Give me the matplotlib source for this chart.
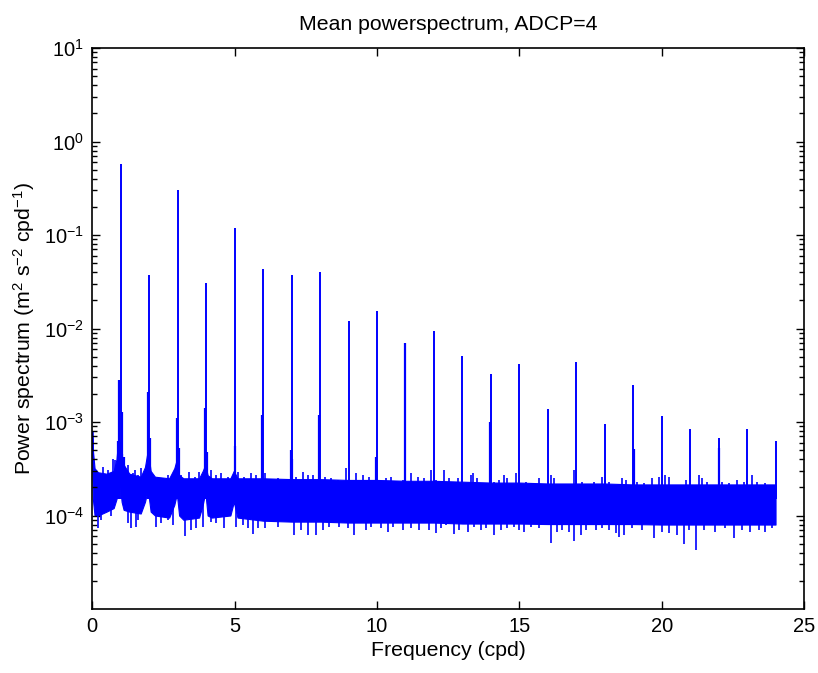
import numpy as np
import matplotlib
matplotlib.use("Agg")
import matplotlib.pyplot as plt
from matplotlib.ticker import LogLocator, NullFormatter, LogFormatterSciNotation

plt.rcParams["font.family"] = ["Liberation Sans", "DejaVu Sans"]
plt.rcParams["mathtext.default"] = "regular"
plt.rcParams["axes.unicode_minus"] = False

# Tidal harmonics (cycles per day) and the peak power at each
harmonic_freq = list(range(1, 25))
harmonic_power = [0.57, 0.037, 0.30, 0.031, 0.118, 0.043, 0.037, 0.040,
                  0.012, 0.0154, 0.0070, 0.0093, 0.0051, 0.0033, 0.0042,
                  0.00137, 0.0044, 0.00095, 0.0025, 0.00115, 0.00085,
                  0.00068, 0.00085, 0.00063]

# Side lobes next to the harmonic lines
lobe_freq = [0.95, 1.03, 0.90, 1.06, 1.10, 1.95, 2.03, 2.96, 3.03, 3.96, 4.03,
             5.03, 5.97, 6.97, 7.03, 7.98, 9.98, 10.97, 13.97, 19.03, 22.03]
lobe_power = [2.8e-3, 1.27e-3, 6.2e-4, 4.5e-4, 4.2e-4, 2.1e-3, 6.8e-4, 1.1e-3,
              5.3e-4, 1.4e-3, 4.8e-4, 5.6e-4, 1.2e-3, 5.0e-4, 4.0e-4, 1.2e-3,
              4.2e-4, 7.0e-3, 1.0e-3, 5.2e-4, 5.3e-4]

# Background noise continuum: lower and upper edge of the dense band
band_freq = [0.00, 0.02, 0.08, 0.20, 0.50, 0.75, 0.85, 0.92, 0.97, 1.03, 1.10,
             1.30, 1.70, 1.85, 1.95, 2.05, 2.20, 2.70, 2.88, 2.97, 3.05, 3.20,
             3.75, 3.88, 3.97, 4.05, 4.20, 4.85, 4.97, 5.10, 6.0, 7.0, 8.0,
             9.0, 10.0, 11.0, 12.0, 13.0, 14.0, 15.0, 16.0, 17.0, 18.0, 19.0,
             20.0, 21.0, 22.0, 23.0, 24.0]
band_low = [3.0e-4, 1.5e-4, 1.0e-4, 1.0e-4, 1.1e-4, 1.2e-4, 1.5e-4, 2.0e-4,
            2.2e-4, 1.4e-4, 1.15e-4, 1.1e-4, 1.05e-4, 1.4e-4, 1.9e-4, 1.1e-4,
            1.0e-4, 0.95e-4, 1.3e-4, 1.7e-4, 1.0e-4, 0.9e-4, 0.95e-4, 1.3e-4,
            1.8e-4, 1.0e-4, 0.95e-4, 1.0e-4, 1.4e-4, 0.95e-4, 0.88e-4, 0.86e-4,
            0.86e-4, 0.84e-4, 0.84e-4, 0.84e-4, 0.84e-4, 0.82e-4, 0.82e-4,
            0.82e-4, 0.81e-4, 0.81e-4, 0.81e-4, 0.81e-4, 0.80e-4, 0.80e-4,
            0.80e-4, 0.80e-4, 0.80e-4]
band_high = [8.0e-4, 5.0e-4, 3.2e-4, 2.9e-4, 2.8e-4, 3.0e-4, 4.0e-4, 7.0e-4,
             6.0e-4, 4.5e-4, 3.5e-4, 2.8e-4, 2.6e-4, 3.3e-4, 5.0e-4, 3.0e-4,
             2.6e-4, 2.5e-4, 3.2e-4, 4.0e-4, 2.7e-4, 2.5e-4, 2.5e-4, 3.0e-4,
             3.5e-4, 2.7e-4, 2.5e-4, 2.5e-4, 3.0e-4, 2.5e-4, 2.5e-4, 2.45e-4,
             2.45e-4, 2.4e-4, 2.4e-4, 2.35e-4, 2.35e-4, 2.3e-4, 2.25e-4,
             2.25e-4, 2.2e-4, 2.2e-4, 2.2e-4, 2.15e-4, 2.15e-4, 2.15e-4,
             2.15e-4, 2.15e-4, 2.15e-4]

# Individual excursions above the noise band
up_freq = [0.38, 0.55, 0.73, 0.78, 1.25, 1.43, 1.49, 1.60, 1.72, 2.19, 2.48,
           2.65, 3.12, 3.41, 3.59, 3.76, 4.17, 4.35, 4.52, 4.76, 5.11, 5.34,
           5.57, 5.75, 6.05, 6.29, 6.52, 6.76, 7.16, 7.40, 7.57, 7.75, 8.16,
           8.39, 8.62, 8.92, 9.27, 9.50, 9.73, 9.97, 10.32, 10.49, 10.90,
           11.20, 11.43, 11.66, 11.90, 12.07, 12.36, 12.54, 12.83, 13.30,
           13.36, 13.53, 14.12, 14.29, 14.47, 14.58, 14.87, 15.23, 15.69,
           16.10, 16.22, 16.92, 17.21, 17.62, 17.91, 18.15, 18.60, 18.73,
           19.14, 19.38, 19.67, 19.90, 20.13, 20.25, 20.54, 20.84, 21.30,
           21.42, 21.60, 22.12, 22.35, 22.65, 22.88, 23.17, 23.35, 23.64]
up_power = [3.3e-4, 3.06e-4, 4.0e-4, 3.9e-4, 3.46e-4, 2.83e-4, 3.06e-4,
            2.7e-4, 3.2e-4, 2.6e-4, 2.5e-4, 2.7e-4, 2.7e-4, 2.94e-4, 2.6e-4,
            2.94e-4, 3.06e-4, 2.7e-4, 2.83e-4, 2.6e-4, 2.94e-4, 2.6e-4,
            2.83e-4, 2.7e-4, 2.83e-4, 2.4e-4, 2.5e-4, 2.4e-4, 2.6e-4, 2.94e-4,
            2.7e-4, 2.7e-4, 2.6e-4, 2.5e-4, 2.4e-4, 3.2e-4, 2.83e-4, 2.7e-4,
            2.6e-4, 3.3e-4, 2.5e-4, 2.6e-4, 2.4e-4, 2.83e-4, 2.6e-4, 2.5e-4,
            3.06e-4, 2.4e-4, 3.06e-4, 2.5e-4, 2.5e-4, 2.7e-4, 2.83e-4, 2.5e-4,
            2.3e-4, 2.4e-4, 2.7e-4, 2.5e-4, 2.83e-4, 2.3e-4, 2.5e-4, 2.7e-4,
            2.5e-4, 3.06e-4, 2.3e-4, 2.3e-4, 2.6e-4, 2.3e-4, 2.5e-4, 2.4e-4,
            2.3e-4, 2.2e-4, 2.5e-4, 2.6e-4, 2.7e-4, 2.6e-4, 2.1e-4, 2.4e-4,
            2.7e-4, 2.5e-4, 2.3e-4, 2.3e-4, 2.2e-4, 2.4e-4, 2.3e-4, 2.7e-4,
            2.3e-4, 2.2e-4]

# Individual excursions below the noise band
down_freq = [0.20, 0.32, 0.67, 1.25, 1.37, 1.54, 1.60, 2.24, 2.42, 2.65,
             2.83, 3.24, 3.47, 3.65, 3.88, 4.17, 4.35, 4.64, 5.05, 5.28, 5.46,
             5.63, 5.81, 6.05, 6.23, 6.52, 7.10, 7.34, 7.57, 7.86, 8.10, 8.33,
             8.68, 8.98, 9.21, 9.62, 9.79, 10.14, 10.38, 10.55, 10.90, 11.19,
             11.49, 11.84, 12.07, 12.25, 12.42, 12.71, 12.89, 13.18, 13.42,
             13.65, 13.83, 14.11, 14.35, 14.58, 14.82, 14.99, 15.17, 15.40,
             15.69, 16.10, 16.34, 16.51, 16.75, 16.92, 17.15, 17.33, 17.68,
             17.91, 18.15, 18.38, 18.50, 18.68, 18.97, 19.32, 19.72, 20.02,
             20.25, 20.54, 20.77, 20.95, 21.20, 21.48, 21.89, 22.24, 22.53,
             22.82, 23.11, 23.41, 23.64, 23.87]
down_power = [7.3e-5, 9.0e-5, 1.0e-4, 8.3e-5, 7.3e-5, 7.6e-5, 9.0e-5,
              7.6e-5, 8.3e-5, 9.0e-5, 7.9e-5, 6.0e-5, 7.0e-5, 7.3e-5, 7.6e-5,
              8.6e-5, 8.3e-5, 7.3e-5, 7.6e-5, 7.9e-5, 7.3e-5, 6.4e-5, 7.3e-5,
              7.3e-5, 9.0e-5, 7.6e-5, 6.2e-5, 7.0e-5, 6.2e-5, 6.2e-5, 7.0e-5,
              7.6e-5, 7.6e-5, 7.3e-5, 6.2e-5, 7.0e-5, 7.6e-5, 7.3e-5, 6.7e-5,
              7.6e-5, 7.0e-5, 7.3e-5, 7.0e-5, 7.0e-5, 6.45e-5, 7.3e-5, 7.9e-5,
              6.4e-5, 7.0e-5, 6.6e-5, 7.6e-5, 7.0e-5, 7.3e-5, 6.2e-5, 7.0e-5,
              7.3e-5, 7.6e-5, 7.0e-5, 6.6e-5, 7.6e-5, 7.3e-5, 5.1e-5, 6.7e-5,
              7.0e-5, 6.7e-5, 5.3e-5, 6.2e-5, 7.0e-5, 7.0e-5, 7.3e-5, 7.0e-5,
              6.45e-5, 5.9e-5, 6.2e-5, 7.3e-5, 7.0e-5, 5.7e-5, 6.7e-5, 6.45e-5,
              6.2e-5, 5.0e-5, 7.0e-5, 4.3e-5, 7.0e-5, 6.7e-5, 7.3e-5, 5.7e-5,
              7.0e-5, 6.7e-5, 7.0e-5, 6.7e-5, 7.3e-5]

blue = (0, 0, 1)
text_size = 15.3

fig = plt.figure(figsize=(8.18, 6.73), dpi=100)
ax = fig.add_axes([92.3 / 818, 64 / 673, 711.7 / 818, 561 / 673])

# noise band
ax.fill_between(band_freq, band_low, band_high, color=blue, lw=0.8,
                edgecolor=blue)
ax.vlines(up_freq, 1.5e-4, up_power, color=blue, lw=1.2)
ax.vlines(down_freq, down_power, 1.5e-4, color=blue, lw=1.2)

# side lobes and harmonic lines
ax.vlines(lobe_freq, 1.5e-4, lobe_power, color=blue, lw=1.6)
ax.vlines(harmonic_freq, 1.5e-4, harmonic_power, color=blue, lw=1.4)

ax.set_yscale("log")
ax.set_xlim(0, 25)
ax.set_ylim(1e-5, 1e1)
ax.set_xticks(np.arange(0, 26, 5))
ax.set_yticks([1e-4, 1e-3, 1e-2, 1e-1, 1e0, 1e1])
ax.yaxis.set_major_formatter(LogFormatterSciNotation())
ax.yaxis.set_minor_locator(LogLocator(base=10, subs=np.arange(2, 10),
                                      numticks=100))
ax.yaxis.set_minor_formatter(NullFormatter())

ax.tick_params(which="both", direction="in", top=True, right=True,
               labelsize=14.5, width=1.0, colors="black")
ax.tick_params(which="major", length=6, pad=6)
ax.tick_params(which="minor", length=3.5)
for s in ax.spines.values():
    s.set_linewidth(1.2)

ax.set_title("Mean powerspectrum, ADCP=4", fontsize=text_size, pad=13)
ax.set_xlabel("Frequency (cpd)", fontsize=text_size, labelpad=3)
ax.set_ylabel("Power spectrum (m$^2$ s$^{-2}$ cpd$^{-1}$)", fontsize=text_size,
              labelpad=5)

fig.savefig("out.png", dpi=100)
